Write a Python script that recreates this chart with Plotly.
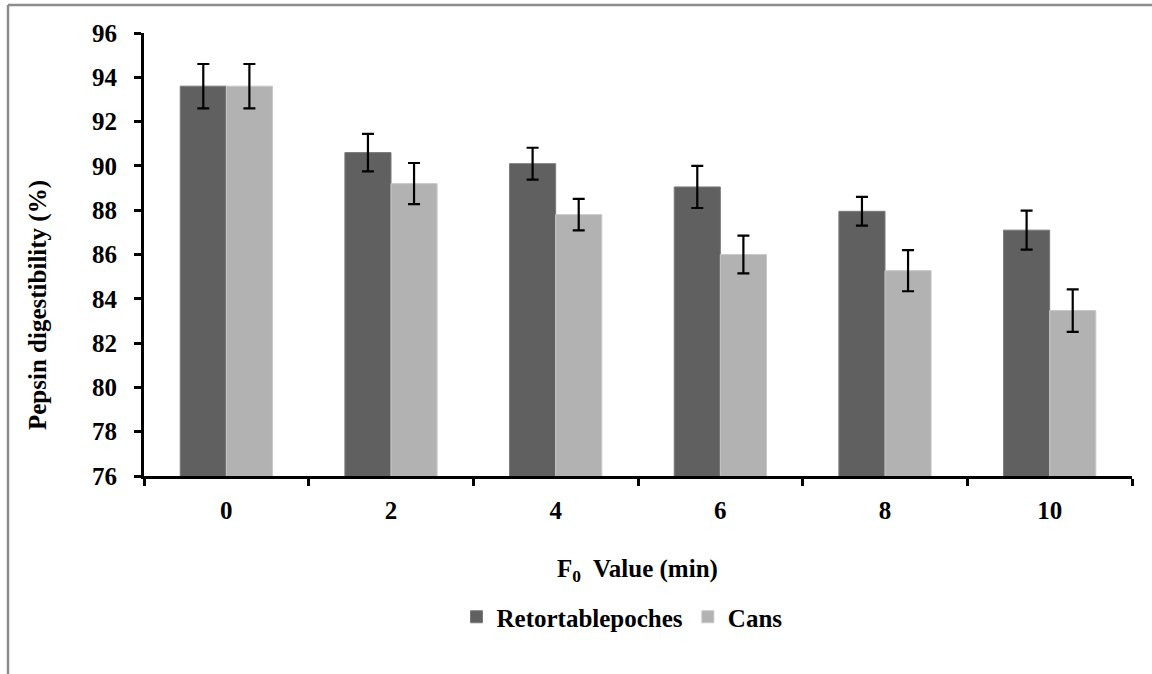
import plotly.graph_objects as go

categories = ["0", "2", "4", "6", "8", "10"]
pouch_vals = [93.6, 90.6, 90.1, 89.05, 87.95, 87.1]
pouch_err = [1.0, 0.85, 0.72, 0.95, 0.65, 0.88]
cans_vals = [93.6, 89.2, 87.8, 86.0, 85.27, 83.47]
cans_err = [1.0, 0.93, 0.71, 0.85, 0.93, 0.96]
yticks = [76, 78, 80, 82, 84, 86, 88, 90, 92, 94, 96]

FONT = "Liberation Serif"
FS = 25
L, R, T, B = 144, 20, 33, 198
W, H = 1152, 674
pw, ph = W - L - R, H - T - B

def px(x):
    return (x - L) / pw

def py(y):
    return (H - B - y) / ph

bold = dict(family=FONT, size=FS, color="black", weight="bold")

fig = go.Figure()
fig.add_trace(go.Bar(
    x=categories, y=pouch_vals, name="Retortablepoches",
    marker=dict(color="#606060", line=dict(color="#7a7a7a", width=1)),
    error_y=dict(type="data", array=pouch_err, color="black", thickness=2.2, width=6),
))
fig.add_trace(go.Bar(
    x=categories, y=cans_vals, name="Cans",
    marker=dict(color="#b2b2b2", line=dict(color="#c8c8c8", width=1)),
    error_y=dict(type="data", array=cans_err, color="black", thickness=2.2, width=6),
))

fig.update_layout(
    width=W, height=H,
    margin=dict(l=L, r=R, t=T, b=B),
    paper_bgcolor="white", plot_bgcolor="white",
    barmode="group", bargap=0.44, bargroupgap=0,
    font=bold,
    showlegend=True,
    legend=dict(orientation="h", x=px(622), xanchor="center", y=py(617), yanchor="middle",
                font=bold, itemwidth=30, traceorder="normal"),
    xaxis=dict(type="category", showline=True, linecolor="black", linewidth=3,
               ticks="outside", ticklen=7, tickwidth=3, tickcolor="black",
               tickson="boundaries", showgrid=False, zeroline=False,
               tickfont=bold, ticklabelstandoff=10),
    yaxis=dict(range=[76, 96], tickvals=yticks, ticktext=[str(v) for v in yticks],
               showline=True, linecolor="black", linewidth=3,
               ticks="outside", ticklen=7, tickwidth=3, tickcolor="black",
               showgrid=False, zeroline=False,
               tickfont=bold, ticklabelstandoff=12),
    annotations=[
        dict(text="F<sub>0</sub>  Value (min)", xref="paper", yref="paper",
             x=px(637), y=py(570), xanchor="center", yanchor="middle", showarrow=False,
             font=bold),
        dict(text="Pepsin digestibility (%)", xref="paper", yref="paper",
             x=px(38), y=py(305), xanchor="center", yanchor="middle", showarrow=False,
             textangle=-90, font=bold),
    ],
    shapes=[
        dict(type="line", xref="paper", yref="paper", x0=px(8), x1=px(1152),
             y0=py(5), y1=py(5), line=dict(color="#8c8c8c", width=2.5)),
        dict(type="line", xref="paper", yref="paper", x0=px(8), x1=px(8),
             y0=py(5), y1=py(674), line=dict(color="#8c8c8c", width=2.5)),
    ],
)

fig.write_html("out.html")
